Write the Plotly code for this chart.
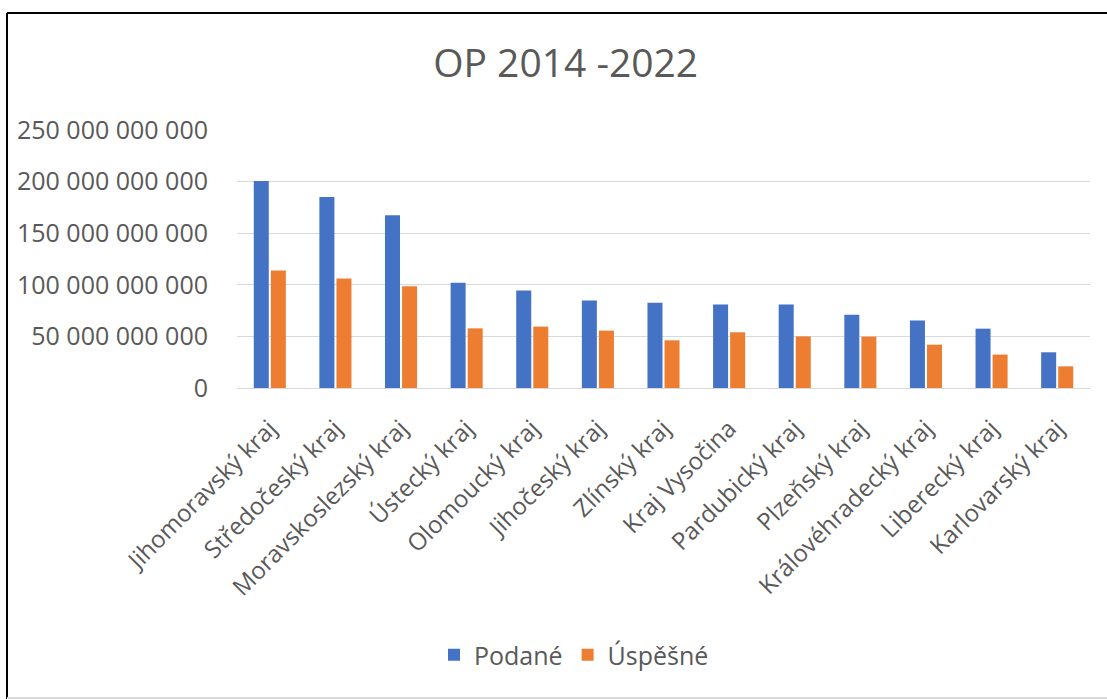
import plotly.graph_objects as go

# Regions and submitted / successful project volumes (CZK)
regions = [
    "Jihomoravský kraj", "Středočeský kraj", "Moravskoslezský kraj",
    "Ústecký kraj", "Olomoucký kraj", "Jihočeský kraj", "Zlínský kraj",
    "Kraj Vysočina", "Pardubický kraj", "Plzeňský kraj",
    "Královéhradecký kraj", "Liberecký kraj", "Karlovarský kraj",
]
podane = [200.5e9, 185.0e9, 167.5e9, 102.0e9, 94.5e9, 84.7e9, 82.7e9,
          80.8e9, 80.8e9, 71.0e9, 65.3e9, 57.5e9, 34.6e9]
uspesne = [113.8e9, 106.0e9, 98.5e9, 57.8e9, 59.5e9, 55.6e9, 46.2e9,
           54.0e9, 50.0e9, 49.8e9, 42.0e9, 32.4e9, 21.0e9]
y_ticks = [0, 50e9, 100e9, 150e9, 200e9, 250e9]

W, H = 1107, 699
ML, MR, MT, MB = 237, 17, 130, 311
FONT = "Open Sans"
GREY = "#595959"

fig = go.Figure()
fig.add_trace(go.Bar(name="Podané", x=regions, y=podane,
                     marker=dict(color="#4472C4", line=dict(width=0))))
fig.add_trace(go.Bar(name="Úspěšné", x=regions, y=uspesne,
                     marker=dict(color="#ED7D31", line=dict(width=0))))

pw = W - ML - MR
ph = H - MT - MB


def px_x(p):
    return (p - ML) / pw


def px_y(p):
    return (H - MB - p) / ph


# frame lines around the chart
shapes = [
    dict(type="line", xref="paper", yref="paper", x0=px_x(7), x1=px_x(W),
         y0=px_y(13), y1=px_y(13), line=dict(color="#000000", width=2)),
    dict(type="line", xref="paper", yref="paper", x0=px_x(7), x1=px_x(7),
         y0=px_y(13), y1=px_y(H), line=dict(color="#000000", width=2)),
    dict(type="line", xref="paper", yref="paper", x0=px_x(7), x1=px_x(W),
         y0=px_y(698), y1=px_y(698), line=dict(color="#d9d9d9", width=2)),
]

fig.update_layout(
    width=W, height=H,
    margin=dict(l=ML, r=MR, t=MT, b=MB),
    paper_bgcolor="white", plot_bgcolor="white",
    separators=". ",
    barmode="group", bargap=0.48, bargroupgap=0.12,
    font=dict(family=FONT, color=GREY),
    title=dict(text="OP 2014 -2022", x=0.511, xanchor="center",
               y=1 - 63 / H, yanchor="middle",
               font=dict(family=FONT, size=39, color=GREY)),
    xaxis=dict(tickangle=-45, tickfont=dict(size=24, color=GREY),
               showline=True, linecolor="#d9d9d9", linewidth=1,
               ticks="", ticklabelstandoff=16),
    yaxis=dict(range=[0, 250e9], tickvals=y_ticks, tickformat=",d",
               tickfont=dict(size=25, color=GREY),
               showgrid=True, gridcolor="#d9d9d9", gridwidth=1,
               zeroline=False, showline=False, ticks="",
               ticklabelstandoff=28),
    legend=dict(orientation="h", x=0.5185, xref="container", xanchor="center",
                y=1 - 655 / H, yref="container", yanchor="middle",
                font=dict(size=25, color=GREY), itemwidth=30,
                traceorder="normal"),
    shapes=shapes,
)

fig.write_html("out.html")
